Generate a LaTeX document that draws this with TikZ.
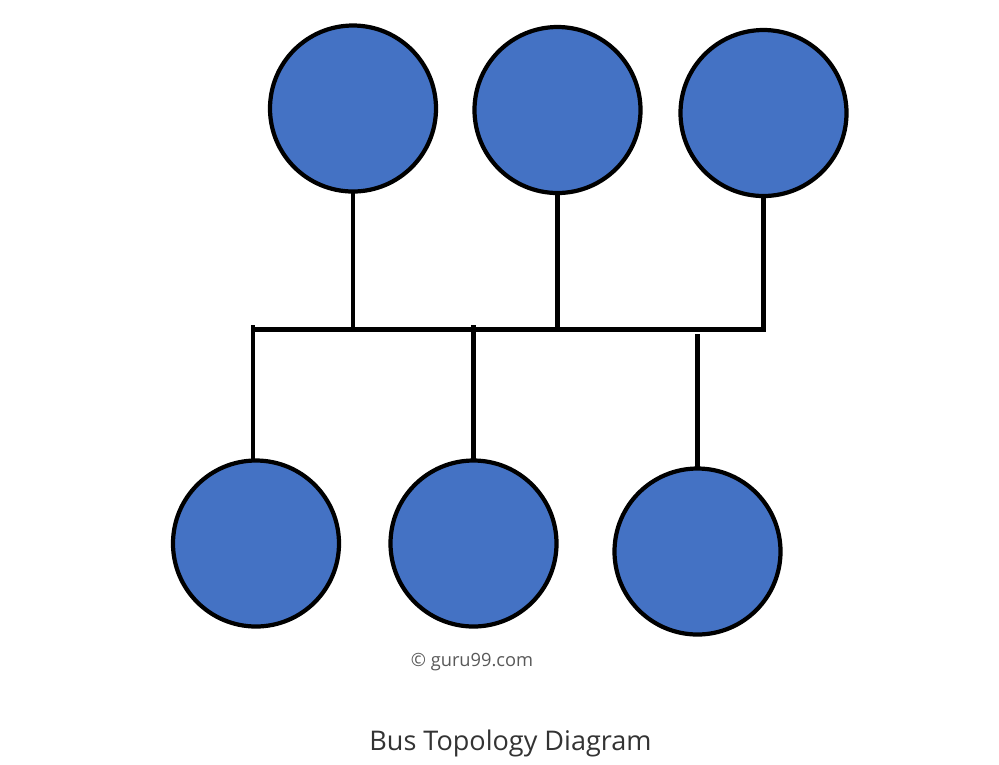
\documentclass[tikz,border=0pt]{standalone}
\usepackage{fontspec}
\setmainfont{Open Sans}
\usepackage{tikz}
\usetikzlibrary{positioning}
\definecolor{hostblue}{HTML}{4472C4}

\begin{document}
\begin{tikzpicture}[
    host/.style={circle, draw=black, fill=hostblue, line width=1.2pt, minimum size=1.66cm, inner sep=0pt},
    wire/.style={line width=1.2pt, line cap=rect}
  ]
      \useasboundingbox (0,0) rectangle (9.99,-7.64);

      \node[host] (T1) at (3.53,-1.085) { };
      \node[host] (T2) at (5.575,-1.10) { };
      \node[host] (T3) at (7.635,-1.13) { };
      \node[host] (B1) at (2.56,-5.435) { };
      \node[host] (B2) at (4.735,-5.435) { };
      \node[host] (B3) at (6.975,-5.515) { };

      % bus line
      \coordinate (busL) at (2.53,-3.295);
      \coordinate (busR) at (7.635,-3.295);
      \draw[wire] (busL) -- (busR);

      % taps
      \coordinate (t1) at (3.53,-3.25);
      \coordinate (t2) at (5.575,-3.27);
      \coordinate (b1) at (2.53,-3.27);
      \coordinate (b2) at (4.735,-3.27);
      \coordinate (b3) at (6.975,-3.36);

      \draw[wire] (T1) -- (t1);
      \draw[wire] (T2) -- (t2);
      \draw[wire] (T3) -- (busR);
      \draw[wire] (b1) -- (b1 |- B1.north);
      \draw[wire] (b2) -- (B2);
      \draw[wire] (b3) -- (B3);

      \node[text=black!65, font=\fontsize{5.2}{6}\selectfont] (copy) at (4.72,-6.62) {© guru99.com};
      \node[text=black!80, font=\fontsize{7.7}{9}\selectfont] (title) at (5.105,-7.43) {Bus Topology Diagram};
\end{tikzpicture}
\end{document}
